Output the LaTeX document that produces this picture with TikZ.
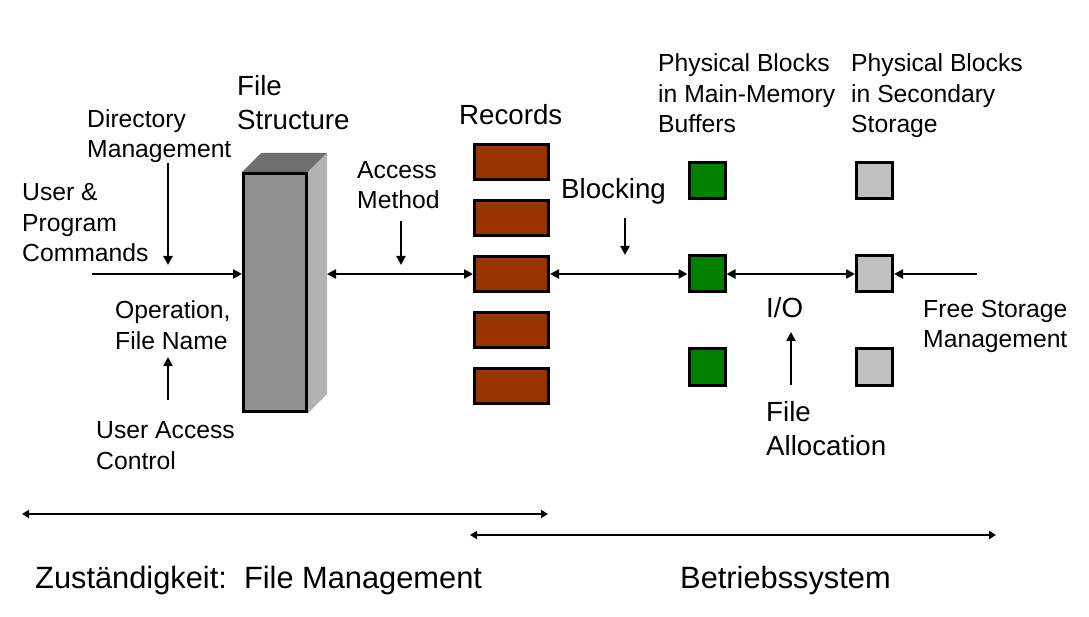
\documentclass[tikz,border=0pt]{standalone}
\usepackage{fontspec}
\setmainfont{Liberation Sans}
\usetikzlibrary{arrows.meta,backgrounds}
\definecolor{brick}{HTML}{993300}
\definecolor{grn}{HTML}{007F00}
\definecolor{lgrey}{HTML}{C0C0C0}
\definecolor{frontgrey}{HTML}{919191}
\definecolor{topgrey}{HTML}{6F6F6F}
\definecolor{sidegrey}{HTML}{B2B2B2}
\begin{document}
\begin{tikzpicture}[x=1pt,y=-1pt,
  lbl/.style={anchor=base west, inner sep=0pt, align=left, font=\fontsize{24.7}{30.8}\selectfont},
  big/.style={anchor=base west, inner sep=0pt, align=left, font=\fontsize{27.7}{34}\selectfont},
  huge/.style={anchor=base west, inner sep=0pt, font=\fontsize{30.8}{36}\selectfont},
  rec/.style={draw=black, line width=3pt, fill=brick, minimum width=74pt, minimum height=35pt, inner sep=0pt},
  gblk/.style={draw=black, line width=3pt, fill=grn, minimum width=36pt, minimum height=36pt, inner sep=0pt},
  sblk/.style={draw=black, line width=3pt, fill=lgrey, minimum width=36pt, minimum height=36pt, inner sep=0pt},
  arr/.style={line width=2.3pt, -{Triangle[length=9pt,width=9pt]}},
  darr/.style={line width=2.3pt, {Triangle[length=9pt,width=9pt]}-{Triangle[length=9pt,width=9pt]}},
  barr/.style={line width=2.3pt, {Triangle[length=7pt,width=8pt]}-{Triangle[length=7pt,width=8pt]}},
]
\useasboundingbox (0,0) rectangle (1089,617);

% File structure block
\node[draw=black, line width=3pt, fill=frontgrey, minimum width=63pt, minimum height=238pt, inner sep=0pt] (fs) at (275,292.5) {};
\begin{scope}[on background layer]
  \fill[topgrey] (fs.north west) -- ++(19,-19) -- ([xshift=19pt,yshift=19pt]fs.north east) -- (fs.north east) -- cycle;
  \fill[sidegrey] (fs.north east) -- ++(19,-19) -- ++(0,241) -- (fs.south east) -- cycle;
\end{scope}

% Records
\node[rec] (r1) at (511.5,162.5) {};
\node[rec] (r2) at (511.5,218.5) {};
\node[rec] (r3) at (511.5,274) {};
\node[rec] (r4) at (511.5,330) {};
\node[rec] (r5) at (511.5,386) {};

% Main-memory blocks
\node[gblk] (g1) at (707,181) {};
\node[gblk] (g2) at (707,274) {};
\node[gblk] (g3) at (707,367) {};

% Secondary storage blocks
\node[sblk] (s1) at (874.5,181) {};
\node[sblk] (s2) at (874.5,274) {};
\node[sblk] (s3) at (874.5,367) {};

% free ends
\coordinate (cmd) at (92,274);
\coordinate (dmA) at (168,163);
\coordinate (dmB) at (168,265);
\coordinate (opA) at (168,400);
\coordinate (opB) at (168,357);
\coordinate (amA) at (401,221);
\coordinate (amB) at (401,265);
\coordinate (blA) at (625,218);
\coordinate (blB) at (625,255);
\coordinate (ioA) at (791,385);
\coordinate (ioB) at (791,332);
\coordinate (fsm) at (977,274);
\coordinate (b1) at (22,514);
\coordinate (b2) at (548,514);
\coordinate (b3) at (470,535);
\coordinate (b4) at (996,535);

% connectors
\draw[arr] (cmd) -- (fs.west |- cmd);
\draw[darr] ([xshift=19pt]fs.east |- r3.west) -- (r3.west);
\draw[darr] (r3.east) -- (g2.west);
\draw[darr] (g2.east) -- (s2.west);
\draw[arr] (fsm) -- (s2.east);
\draw[arr] (dmA) -- (dmB);
\draw[arr] (opA) -- (opB);
\draw[arr] (amA) -- (amB);
\draw[arr] (blA) -- (blB);
\draw[arr] (ioA) -- (ioB);
\draw[barr] (b1) -- (b2);
\draw[barr] (b3) -- (b4);

% labels (anchor = baseline of the last line)
\node[big] (tfs) at (237,130) {File\\Structure};
\node[lbl] (tdm) at (87,158) {Directory\\Management};
\node[lbl] (tuc) at (22,262) {User \&\\Program\\Commands};
\node[lbl] (top) at (115,349) {Operation,\\File Name};
\node[lbl] (tua) at (96,469) {User Access\\Control};
\node[lbl] (tam) at (357,209) {Access\\Method};
\node[big] (trec) at (459,125) {Records};
\node[big] (tblk) at (561,199) {Blocking};
\node[lbl] (tpm) at (658,133) {Physical Blocks\\in Main-Memory\\Buffers};
\node[lbl] (tps) at (851,133) {Physical Blocks\\in Secondary\\Storage};
\node[big] (tio) at (766,318) {I/O};
\node[big] (tfa) at (766,455) {File\\Allocation};
\node[lbl] (tfr) at (923,348) {Free Storage\\Management};
\node[huge] (tz) at (35,588) {Zuständigkeit:\ \ File Management};
\node[huge] (tb) at (680,588) {Betriebssystem};
\end{tikzpicture}
\end{document}
